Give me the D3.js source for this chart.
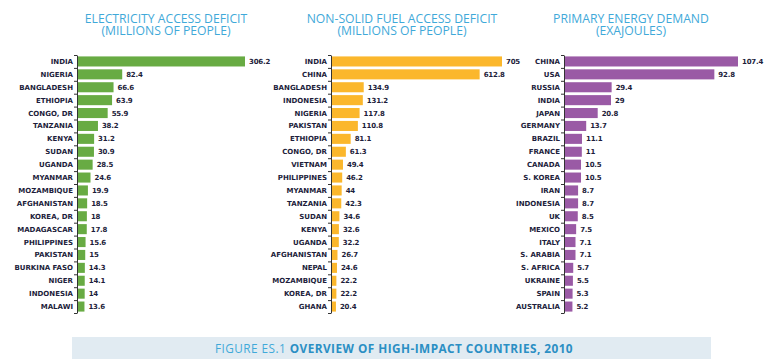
<!DOCTYPE html>
<html>
<head>
<meta charset="utf-8">
<script src="https://cdn.jsdelivr.net/npm/d3@7"></script>
<style>
	body { margin: 0; background: #fff; }
	svg { display: block; }
</style>
</head>
<body>
<div id="chart"></div>
<script>
// Data
const elecCountries = ['INDIA', 'NIGERIA', 'BANGLADESH', 'ETHIOPIA', 'CONGO, DR', 'TANZANIA', 'KENYA', 'SUDAN', 'UGANDA', 'MYANMAR', 'MOZAMBIQUE', 'AFGHANISTAN', 'KOREA, DR', 'MADAGASCAR', 'PHILIPPINES', 'PAKISTAN', 'BURKINA FASO', 'NIGER', 'INDONESIA', 'MALAWI'];
const elecValues = [306.2, 82.4, 66.6, 63.9, 55.9, 38.2, 31.2, 30.9, 28.5, 24.6, 19.9, 18.5, 18, 17.8, 15.6, 15, 14.3, 14.1, 14, 13.6];

const fuelCountries = ['INDIA', 'CHINA', 'BANGLADESH', 'INDONESIA', 'NIGERIA', 'PAKISTAN', 'ETHIOPIA', 'CONGO, DR', 'VIETNAM', 'PHILIPPINES', 'MYANMAR', 'TANZANIA', 'SUDAN', 'KENYA', 'UGANDA', 'AFGHANISTAN', 'NEPAL', 'MOZAMBIQUE', 'KOREA, DR', 'GHANA'];
const fuelValues = [705, 612.8, 134.9, 131.2, 117.8, 110.8, 81.1, 61.3, 49.4, 46.2, 44, 42.3, 34.6, 32.6, 32.2, 26.7, 24.6, 22.2, 22.2, 20.4];

const energyCountries = ['CHINA', 'USA', 'RUSSIA', 'INDIA', 'JAPAN', 'GERMANY', 'BRAZIL', 'FRANCE', 'CANADA', 'S. KOREA', 'IRAN', 'INDONESIA', 'UK', 'MEXICO', 'ITALY', 'S. ARABIA', 'S. AFRICA', 'UKRAINE', 'SPAIN', 'AUSTRALIA'];
const energyValues = [107.4, 92.8, 29.4, 29, 20.8, 13.7, 11.1, 11, 10.5, 10.5, 8.7, 8.7, 8.5, 7.5, 7.1, 7.1, 5.7, 5.5, 5.3, 5.2];

const panelTitles = [
	['ELECTRICITY ACCESS DEFICIT', '(MILLIONS OF PEOPLE)'],
	['NON-SOLID FUEL ACCESS DEFICIT', '(MILLIONS OF PEOPLE)'],
	['PRIMARY ENERGY DEMAND', '(EXAJOULES)']
];
const figureLabel = 'FIGURE ES.1';
const figureTitle = 'OVERVIEW OF HIGH-IMPACT COUNTRIES, 2010';

// Layout
const width = 764;
const height = 361;
const bandTop = 55;
const bandBottom = 313;
const titleColor = '#3fa9d9';
const textColor = '#1d1d3b';
const labelFont = "'DejaVu Sans', sans-serif";

const panels = [
	{ countries: elecCountries, values: elecValues, title: panelTitles[0], axisX: 77, barMax: 168, titleX: 166, color: '#68ab43' },
	{ countries: fuelCountries, values: fuelValues, title: panelTitles[1], axisX: 331, barMax: 171, titleX: 402, color: '#fbb72c' },
	{ countries: energyCountries, values: energyValues, title: panelTitles[2], axisX: 564, barMax: 174, titleX: 631, color: '#9a5aa5' }
];

const svg = d3.select('#chart')
	.append('svg')
	.attr('width', width)
	.attr('height', height)
	.attr('viewBox', [0, 0, width, height])
	.style('font-family', "'Open Sans', sans-serif");

panels.forEach(function (p) {
	const g = svg.append('g');

	const y = d3.scaleBand()
		.domain(p.countries)
		.range([bandTop, bandBottom])
		.paddingInner(0.22)
		.paddingOuter(0.11);

	const x = d3.scaleLinear()
		.domain([0, d3.max(p.values)])
		.range([p.axisX, p.axisX + p.barMax]);

	// Title, two lines
	g.selectAll('text.title')
		.data(p.title)
		.enter()
		.append('text')
		.attr('class', 'title')
		.attr('x', p.titleX)
		.attr('y', (d, i) => 22.5 + i * 12.2)
		.attr('text-anchor', 'middle')
		.attr('fill', titleColor)
		.style('font-size', '12.2px')
		.text((d) => d);

	const rows = p.countries.map((c, i) => ({ country: c, value: p.values[i] }));

	// Bars
	g.selectAll('rect.bar')
		.data(rows)
		.enter()
		.append('rect')
		.attr('class', 'bar')
		.attr('x', p.axisX)
		.attr('y', (d) => y(d.country))
		.attr('width', (d) => x(d.value) - p.axisX)
		.attr('height', y.bandwidth())
		.attr('fill', p.color);

	// Axis with ticks at band boundaries
	const edges = d3.scaleLinear()
		.domain([0, p.countries.length])
		.range([bandTop, bandBottom]);
	const axis = g.append('g')
		.attr('transform', 'translate(' + p.axisX + ',0)')
		.call(d3.axisLeft(edges)
			.tickValues(d3.range(p.countries.length + 1))
			.tickSize(3)
			.tickSizeOuter(0)
			.tickFormat(''));
	axis.select('.domain').attr('stroke', '#333').attr('stroke-width', 1);
	axis.selectAll('.tick line').attr('stroke', '#333');

	// Country labels
	g.selectAll('text.country')
		.data(rows)
		.enter()
		.append('text')
		.attr('class', 'country')
		.attr('x', p.axisX - 4)
		.attr('y', (d) => y(d.country) + y.bandwidth() / 2)
		.attr('dy', '0.36em')
		.attr('text-anchor', 'end')
		.attr('fill', textColor)
		.style('font-family', labelFont)
		.style('font-size', '7px')
		.style('font-weight', 700)
		.text((d) => d.country);

	// Value labels
	g.selectAll('text.value')
		.data(rows)
		.enter()
		.append('text')
		.attr('class', 'value')
		.attr('x', (d) => x(d.value) + 4)
		.attr('y', (d) => y(d.country) + y.bandwidth() / 2)
		.attr('dy', '0.36em')
		.attr('fill', textColor)
		.style('font-family', labelFont)
		.style('font-size', '7px')
		.style('font-weight', 700)
		.style('letter-spacing', '-0.2px')
		.text((d) => d.value);
});

// Figure caption band
svg.append('rect')
	.attr('x', 72)
	.attr('y', 337)
	.attr('width', 639)
	.attr('height', 22)
	.attr('fill', '#e1ebf2');

const caption = svg.append('text')
	.attr('x', 394)
	.attr('y', 352.5)
	.attr('text-anchor', 'middle')
	.attr('fill', titleColor)
	.style('font-size', '11.8px')
	.style('letter-spacing', '0.45px');
caption.append('tspan').text(figureLabel + '  ');
caption.append('tspan').style('font-weight', 700).attr('fill', '#2b8fc4').text(figureTitle);
</script>
</body>
</html>
